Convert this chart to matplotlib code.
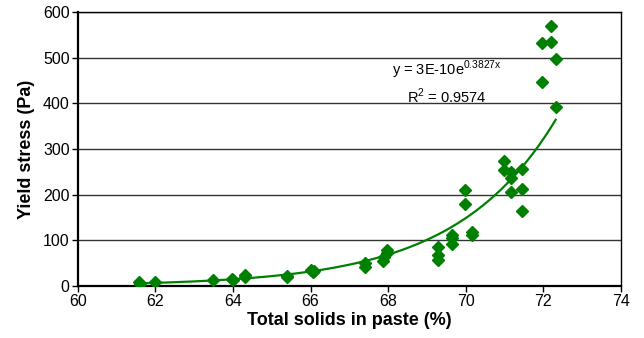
import numpy as np
import matplotlib.pyplot as plt

plt.rcParams['font.family'] = ['Liberation Sans', 'DejaVu Sans']
plt.rcParams['mathtext.fontset'] = 'custom'
plt.rcParams['mathtext.rm'] = 'Liberation Sans'

solids = [61.58, 61.6, 61.98, 63.49, 63.98, 64.0, 64.3, 64.3, 65.38, 65.4,
          66.02, 66.05, 66.1, 67.4, 67.4, 67.87, 67.9, 67.97, 67.97,
          69.29, 69.29, 69.29, 69.65, 69.65, 69.65, 69.98, 69.98, 70.17, 70.17,
          70.98, 70.98, 71.18, 71.18, 71.18, 71.44, 71.44, 71.44,
          71.98, 71.98, 72.19, 72.19, 72.32, 72.32]
stress = [9, 5, 9, 13, 15, 12, 24, 20, 22, 19,
          35, 31, 33, 51, 42, 55, 63, 79, 72,
          86, 68, 57, 112, 106, 92, 209, 180, 119, 112,
          274, 254, 250, 236, 206, 256, 212, 165,
          531, 447, 569, 535, 496, 391]

# Exponential trendline (least squares on ln y, as spreadsheet trendlines do)
b, ln_a = np.polyfit(solids, np.log(stress), 1)
xf = np.linspace(min(solids), max(solids), 200)
yf = np.exp(ln_a) * np.exp(b * xf)

fig = plt.figure(figsize=(6.44, 3.38), dpi=100)
ax = fig.add_axes([0.121, 0.154, 0.843, 0.811])

ax.set_axisbelow(True)
ax.grid(axis='y', color='#333333', linewidth=1.0)
ax.plot(xf, yf, color='#008000', linewidth=1.6, zorder=2)
ax.plot(solids, stress, linestyle='none', marker='D', markersize=6,
        color='#008000', zorder=3)

ax.set_xlim(60, 74)
ax.set_ylim(0, 600)
ax.set_xticks(range(60, 75, 2))
ax.set_yticks(range(0, 601, 100))
ax.tick_params(labelsize=11.5, length=4, width=1, colors='black', pad=2)

for s in ax.spines.values():
    s.set_linewidth(1.0)
ax.spines['left'].set_linewidth(1.6)
ax.spines['bottom'].set_linewidth(1.6)

ax.set_xlabel('Total solids in paste (%)', fontsize=13, fontweight='bold', labelpad=2)
ax.set_ylabel('Yield stress (Pa)', fontsize=13, fontweight='bold', labelpad=6)

ax.text(69.5, 473, r'y = 3E-10e$^{\mathrm{0.3827x}}$', fontsize=10.5, ha='center', va='center')
ax.text(69.5, 414, r'R$^{\mathrm{2}}$ = 0.9574', fontsize=10.5, ha='center', va='center')

fig.savefig('out.png', dpi=100)
